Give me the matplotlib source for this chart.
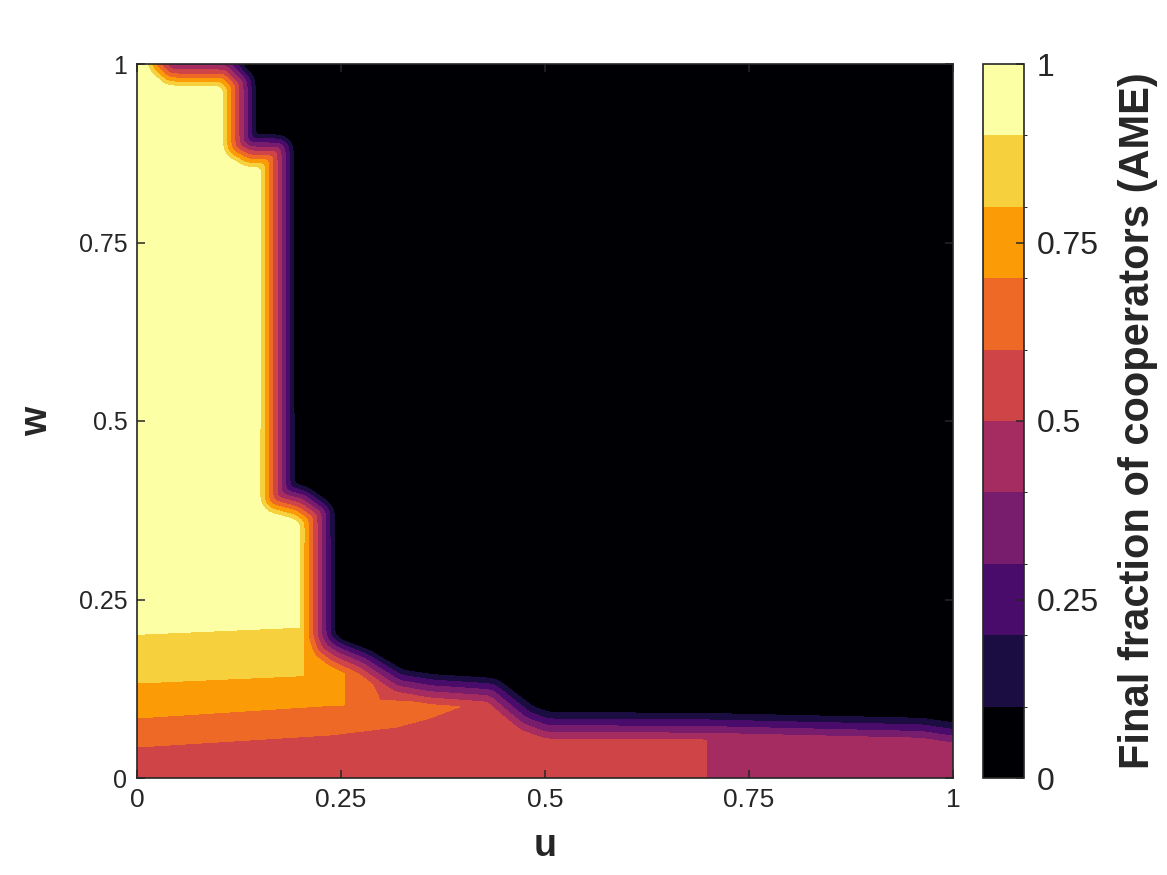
import numpy as np
import matplotlib
matplotlib.use("Agg")
import matplotlib.pyplot as plt
from matplotlib.path import Path
from matplotlib.colors import ListedColormap, BoundaryNorm

# ---------------- data ----------------
# 0.5-level front of the final cooperator fraction (u, w)
front_u = [-0.098, -0.098, 0.016, 0.032, 0.043, 0.108, 0.125, 0.125, 0.1385, 0.1716,
           0.1716, 0.1998, 0.2206, 0.2206, 0.2267, 0.2426, 0.2733, 0.2978, 0.3162,
           0.3591, 0.4289, 0.4485, 0.4694, 0.500, 0.6985, 0.9596, 1.000, 1.107, 1.107]
front_w = [-0.112, 1.062, 1.062, 1.003, 0.9916, 0.9916, 0.972, 0.8866, 0.878, 0.878,
           0.3936, 0.385, 0.3683, 0.2003, 0.1821, 0.1695, 0.1541, 0.1345, 0.1204,
           0.1120, 0.1064, 0.0868, 0.0672, 0.0546, 0.0532, 0.0462, 0.0392, 0.0322, -0.112]
# transition width of one 0.1 step (in pixels) as a function of w
width_w = [0.0, 0.06, 0.10, 0.14, 0.20, 1.0]
width_px = [6.8, 6.8, 6.6, 6.0, 4.4, 4.0]

# level boundaries of the low-w plateau (u, w)
b6_u = [0.0, 0.1385, 0.2365, 0.318, 0.3591, 0.3983]        # 0.6 level (lower)
b6_w = [0.0434, 0.0532, 0.0602, 0.0714, 0.084, 0.1008]
b6hi_u = [0.2537, 0.285, 0.2978, 0.3591, 0.3983]           # 0.6 level (upper, lens)
b6hi_w = [0.30, 0.14, 0.1092, 0.1050, 0.1008]
b7_u = [0.0, 0.245]                                        # 0.7 level
b7_w = [0.084, 0.1022]
b8_u = [0.0, 0.196]                                        # 0.8 level
b8_w = [0.133, 0.1429]
b9_u = [0.0, 0.197]                                        # 0.9 level
b9_w = [0.2017, 0.2115]
edge_u = [0.204, 0.2537, 0.3983, 0.6985]                   # vertical region edges
plateau_vals = [0.55, 0.45]                                # plateau values left/right of 0.6985

levels = [0.0, 0.1, 0.2, 0.3, 0.4, 0.5, 0.6, 0.7, 0.8, 0.9, 1.0]
tick_vals = [0, 0.25, 0.5, 0.75, 1]
tick_labels = ["0", "0.25", "0.5", "0.75", "1"]

# ---------------- build the field ----------------
SU, SW = 816.0, 714.0  # pixel scale of the axes
u = np.linspace(0, 1, 817)
w = np.linspace(0, 1, 715)
U, W = np.meshgrid(u, w)

# signed distance (pixels) to the front polygon
px = np.array(front_u) * SU
py = np.array(front_w) * SW
X, Y = U * SU, W * SW
dmin = np.full(X.shape, np.inf)
for i in range(len(px)):
    ax_, ay = px[i], py[i]
    bx, by = px[(i + 1) % len(px)], py[(i + 1) % len(px)]
    vx, vy = bx - ax_, by - ay
    L2 = vx * vx + vy * vy
    t = np.clip(((X - ax_) * vx + (Y - ay) * vy) / L2, 0, 1)
    d = np.hypot(X - (ax_ + t * vx), Y - (ay + t * vy))
    dmin = np.minimum(dmin, d)
inside = Path(np.column_stack([px, py])).contains_points(
    np.column_stack([X.ravel(), Y.ravel()])).reshape(X.shape)
sd = np.where(inside, -dmin, dmin)


def smooth(a, s):
    n = int(3 * s)
    k = np.exp(-0.5 * (np.arange(-n, n + 1) / s) ** 2)
    k /= k.sum()
    p = np.pad(a, n, mode="edge")
    p = np.apply_along_axis(lambda v: np.convolve(v, k, mode="valid"), 1, p)
    p = np.apply_along_axis(lambda v: np.convolve(v, k, mode="valid"), 0, p)
    return p


sd = smooth(sd, 3.0)
bw = np.interp(W, width_w, width_px)
F = np.clip(0.5 - sd / (10 * bw), 0, 1)

delta = 0.003
def r(x):
    return np.clip(x / delta + 0.5, 0, 1)

w6 = np.interp(U, b6_u, b6_w)
w6hi = np.interp(U, b6hi_u, b6hi_w)
w7 = np.interp(U, b7_u, b7_w)
w8 = np.interp(U, b8_u, b8_w)
w9 = np.interp(U, b9_u, b9_w)
base = plateau_vals[0]
B_L = base + 0.1 * (r(W - w6) + r(W - w7) + r(W - w8)) + 0.15 * r(W - w9)
B_M = base + 0.1 * (r(W - w6) + r(W - w7)) + 0.25 * r(W - 0.215)
B_R1 = base + 0.1 * (r(W - w6) - r(W - w6hi))
B = np.where(U < edge_u[0], B_L,
     np.where(U < edge_u[1], B_M,
     np.where(U < edge_u[2], B_R1,
     np.where(U < edge_u[3], plateau_vals[0], plateau_vals[1]))))
Z = np.minimum(B, F)

# ---------------- plot ----------------
plt.rcParams["font.family"] = ["Liberation Sans", "DejaVu Sans"]
txt = "#262626"
fig = plt.figure(figsize=(11.67, 8.75), dpi=100)
ax = fig.add_axes([137 / 1167, 97 / 875, 816 / 1167, 714 / 875])
cax = fig.add_axes([983 / 1167, 97 / 875, 41 / 1167, 714 / 875])

colors = plt.get_cmap("inferno")(np.linspace(0, 1, 10))
cmap = ListedColormap(colors)
norm = BoundaryNorm(levels, cmap.N)
cs = ax.contourf(U, W, Z, levels=levels, cmap=cmap, norm=norm)

ax.set_xlim(0, 1)
ax.set_ylim(0, 1)
ax.set_xticks(tick_vals)
ax.set_xticklabels(tick_labels)
ax.set_yticks(tick_vals)
ax.set_yticklabels(tick_labels)
ax.tick_params(direction="in", length=6, width=1.1, colors=txt, labelsize=18,
               top=True, right=True, pad=7)
for t in ax.get_xticklabels():
    t.set_family(["Liberation Sans Narrow", "Liberation Sans", "DejaVu Sans"])
    t.set_fontsize(19)
for s in ax.spines.values():
    s.set_color(txt)
    s.set_linewidth(1.2)
ax.set_xlabel("u", fontsize=27, fontweight="bold", color=txt, labelpad=12)
ax.set_ylabel("w", fontsize=27, fontweight="bold", color=txt, labelpad=17)

cb = fig.colorbar(cs, cax=cax, ticks=tick_vals)
cb.ax.set_yticklabels(tick_labels)
cb.ax.tick_params(direction="in", length=6, width=1.1, colors=txt, labelsize=23, pad=9)
cb.outline.set_edgecolor(txt)
cb.outline.set_linewidth(1.2)
cb.set_label("Final fraction of cooperators (AME)", fontsize=30, fontweight="bold",
             color=txt, labelpad=14)

fig.savefig("out.png", dpi=100)
